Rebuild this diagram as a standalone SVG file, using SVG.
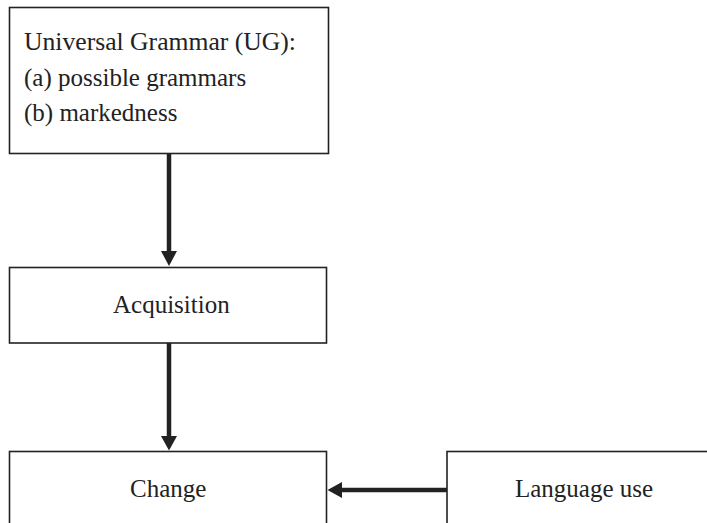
<svg xmlns="http://www.w3.org/2000/svg" width="707" height="523" viewBox="0 0 707 523">
<defs>
<style>
.box{fill:#fff;stroke:#222;stroke-width:1.6}
.t{font-family:"Liberation Serif","Times New Roman",serif;font-size:25px;fill:#222}
.c{stroke:#222;stroke-width:4.5;fill:none}
.h{fill:#222;stroke:none}
</style>
</defs>
<rect width="707" height="523" fill="#fff"/>
<g id="ug">
<rect class="box" x="9.5" y="7.5" width="319" height="146"/>
<text class="t" x="24" y="50" textLength="272" lengthAdjust="spacingAndGlyphs">Universal Grammar (UG):</text>
<text class="t" x="24" y="86">(a) possible grammars</text>
<text class="t" x="24" y="121">(b) markedness</text>
</g>
<g id="acquisition">
<rect class="box" x="9.5" y="267.5" width="317" height="75.5"/>
<text class="t" x="113" y="313">Acquisition</text>
</g>
<g id="change">
<rect class="box" x="9.5" y="451.5" width="317" height="80"/>
<text class="t" x="130" y="497">Change</text>
</g>
<g id="language-use">
<rect class="box" x="447" y="451.5" width="280" height="80"/>
<text class="t" x="515" y="497">Language use</text>
</g>
<g id="connectors">
<line class="c" x1="169" y1="154" x2="169" y2="252"/>
<polygon class="h" points="161,251 177,251 169,266"/>
<line class="c" x1="169" y1="343" x2="169" y2="437"/>
<polygon class="h" points="161,436 177,436 169,450.5"/>
<line class="c" x1="447" y1="490" x2="341" y2="490"/>
<polygon class="h" points="342,482 342,498 327.5,490"/>
</g>
</svg>
